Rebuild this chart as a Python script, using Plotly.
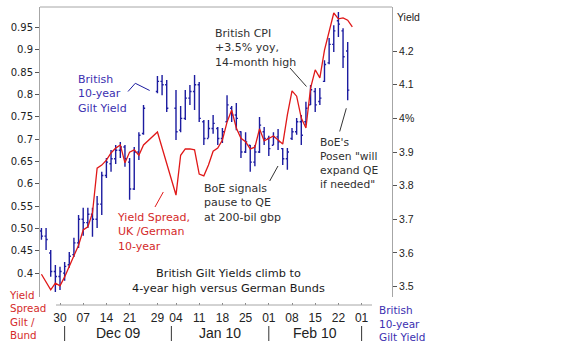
import numpy as np
import pandas as pd
import plotly.graph_objects as go

# ---------------- data ----------------
ANCHOR = "2009-11-30"          # weekday-index origin of the time axis
holidays = ["2009-12-25", "2009-12-28", "2010-01-01"]

gilt_dates = [d for d in pd.bdate_range("2009-11-24", "2010-02-24").strftime("%Y-%m-%d")
              if d not in holidays]
spread_dates = [d for d in pd.bdate_range("2009-11-24", "2010-02-25").strftime("%Y-%m-%d")
                if d not in holidays]

gilt_high = [3.674, 3.674, 3.609, 3.564, 3.559, 3.573, 3.603, 3.645, 3.713, 3.734, 3.734, 3.734,
             3.769, 3.841, 3.882, 3.906, 3.921, 3.930, 3.921, 3.882, 3.915, 3.959, 4.040,
             4.126, 4.129, 4.114,
             4.084, 4.037, 4.084, 4.099, 4.129, 4.108, 3.995, 3.995, 4.010, 3.974, 3.971, 4.069,
             4.037, 4.046, 3.962, 3.959, 3.921, 3.921, 4.004, 3.974, 3.948, 3.959, 3.968, 3.912,
             3.912, 3.971, 4.001, 4.010, 4.049, 4.099, 4.090, 4.090, 4.173, 4.239, 4.277, 4.316,
             4.268, 4.227]
gilt_low = [3.639, 3.609, 3.529, 3.484, 3.490, 3.517, 3.556, 3.588, 3.615, 3.651, 3.674, 3.648,
            3.674, 3.713, 3.823, 3.841, 3.864, 3.882, 3.856, 3.758, 3.787, 3.876, 3.951,
            4.075, 4.069, 4.019,
            3.936, 3.959, 3.995, 4.040, 4.025, 3.989, 3.921, 3.942, 3.954, 3.921, 3.927, 3.989,
            3.989, 3.965, 3.882, 3.897, 3.841, 3.858, 3.897, 3.921, 3.888, 3.921, 3.906, 3.861,
            3.847, 3.936, 3.951, 3.921, 3.980, 4.040, 4.019, 4.040, 4.108, 4.161, 4.197, 4.242,
            4.150, 4.054]
gilt_open = [3.665, 3.650, 3.600, 3.545, 3.530, 3.540, 3.565, 3.595, 3.630, 3.700, 3.690, 3.715,
             3.700, 3.745, 3.830, 3.865, 3.880, 3.905, 3.915, 3.870, 3.790, 3.900, 3.955,
             4.080, 4.110, 4.100,
             4.030, 3.965, 4.000, 4.060, 4.080, 4.100, 3.990, 3.940, 3.970, 3.970, 3.940, 3.990,
             4.030, 4.010, 3.960, 3.900, 3.920, 3.870, 3.900, 3.960, 3.940, 3.920, 3.945, 3.910,
             3.880, 3.940, 3.960, 3.990, 3.990, 4.040, 4.080, 4.050, 4.110, 4.165, 4.220, 4.290,
             4.260, 4.200]
gilt_close = [3.650, 3.640, 3.545, 3.530, 3.545, 3.560, 3.590, 3.630, 3.700, 3.690, 3.715, 3.700,
              3.745, 3.830, 3.870, 3.880, 3.905, 3.915, 3.880, 3.790, 3.900, 3.950, 4.030,
              4.110, 4.100, 4.030,
              3.960, 4.000, 4.060, 4.080, 4.100, 4.000, 3.940, 3.970, 3.985, 3.940, 3.960, 4.040,
              4.010, 4.000, 3.900, 3.930, 3.870, 3.900, 3.980, 3.940, 3.910, 3.945, 3.930, 3.880,
              3.900, 3.960, 3.990, 3.950, 4.030, 4.085, 4.040, 4.060, 4.160, 4.220, 4.260, 4.280,
              4.183, 4.084]

spread = [0.398, 0.381, 0.363, 0.378, 0.372, 0.392, 0.416, 0.439, 0.463, 0.497, 0.504, 0.535,
          0.635, 0.642, 0.653, 0.669, 0.680, 0.687, 0.647, 0.671, 0.676, 0.664, 0.687,
          0.716, 0.680, 0.645,
          0.575, 0.664, 0.678, 0.678, 0.676, 0.622, 0.618, 0.642, 0.673, 0.680, 0.698, 0.738,
          0.765, 0.725, 0.702, 0.694, 0.678, 0.682, 0.723, 0.696, 0.702, 0.707, 0.698, 0.689,
          0.754, 0.808, 0.796, 0.747, 0.725, 0.814, 0.855, 0.837, 0.899, 0.944, 0.982, 0.969,
          0.971, 0.966, 0.951]

tick_dates = ["2009-11-30", "2009-12-07", "2009-12-14", "2009-12-21", "2009-12-29", "2010-01-04",
              "2010-01-11", "2010-01-18", "2010-01-25", "2010-02-01", "2010-02-08", "2010-02-15",
              "2010-02-22", "2010-03-01"]
tick_labels = ["30", "07", "14", "21", "29", "04", "11", "18", "25", "01", "08", "15", "22", "01"]
month_starts = ["2009-12-01", "2010-01-01", "2010-02-01", "2010-03-01"]
month_labels = ["Dec 09", "Jan 10", "Feb 10"]

spread_ticks = [0.4, 0.45, 0.5, 0.55, 0.6, 0.65, 0.7, 0.75, 0.8, 0.85, 0.9, 0.95]
spread_tick_text = ["0.4", "0.45", "0.50", "0.55", "0.6", "0.65", "0.7", "0.75", "0.8", "0.85", "0.9", "0.95"]
yield_ticks = [3.5, 3.6, 3.7, 3.8, 3.9, 4.0, 4.1, 4.2]
yield_tick_text = ["3.5", "3.6", "3.7", "3.8", "3.9", "4%", "4.1", "4.2"]

# ---------------- scales ----------------
def wd(dates):
    return np.busday_count(ANCHOR, np.array(dates, dtype="datetime64[D]"))

gx = wd(gilt_dates)
sx = wd(spread_dates)
tx = wd(tick_dates)
mx = wd(month_starts)

W, H = 563, 357
PL, PR, PT, PB = 40, 392, 7, 305


def px(x):
    return (x - PL) / (PR - PL)


def py(y):
    return (PB - y) / (PB - PT)


NAVY = "#1c1ca0"
RED = "#e01818"
BLUE_TXT = "#3b2fb0"
RED_TXT = "#d42a2a"
DARK = "#303030"
FONT = "DejaVu Sans"

fig = go.Figure()
fig.add_trace(go.Ohlc(x=gx, open=gilt_open, high=gilt_high, low=gilt_low, close=gilt_close,
                      yaxis="y", tickwidth=0.35,
                      increasing=dict(line=dict(color=NAVY, width=1.4)),
                      decreasing=dict(line=dict(color=NAVY, width=1.4)),
                      hoverinfo="skip", showlegend=False))
fig.add_trace(go.Scatter(x=sx, y=spread, yaxis="y2", mode="lines",
                         line=dict(color=RED, width=1.3), hoverinfo="skip", showlegend=False))

fig.update_layout(
    width=W, height=H,
    margin=dict(l=PL, r=W - PR, t=PT, b=H - PB),
    paper_bgcolor="white", plot_bgcolor="white",
    xaxis=dict(range=[-4.31, 71.55], anchor="free", position=0, showline=False,
               showgrid=False, zeroline=False, ticks="inside", ticklen=2, tickcolor="#888",
               tickvals=tx, ticktext=tick_labels, rangeslider=dict(visible=False),
               ticklabelstandoff=4,
               tickfont=dict(family="Liberation Sans", size=12, color="#222")),
    yaxis=dict(domain=[py(297), 1], range=[3.469, 4.331], side="right", anchor="x",
               showline=True, linecolor="#a6a6a6", linewidth=1, showgrid=False, zeroline=False,
               ticks="outside", ticklen=4, tickcolor="#555", tickvals=yield_ticks,
               ticktext=yield_tick_text,
               tickfont=dict(family="Liberation Sans", size=10.5, color="#222")),
    yaxis2=dict(overlaying="y", side="left", anchor="x", range=[0.3471, 0.9954],
                showline=True, linecolor="#a6a6a6", linewidth=1, showgrid=False, zeroline=False,
                ticks="outside", ticklen=4, tickcolor="#555", tickvals=spread_ticks,
                ticktext=spread_tick_text,
                tickfont=dict(family=FONT, size=10, color="#222")),
)

shapes = [
    dict(type="line", xref="paper", yref="paper", x0=0, x1=1, y0=1, y1=1,
         line=dict(color="#a6a6a6", width=1)),
    dict(type="line", xref="paper", yref="paper", x0=px(56), x1=px(372), y0=0, y1=0,
         line=dict(color="#a6a6a6", width=1)),
]
for m in mx:
    shapes.append(dict(type="line", xref="x", yref="paper", x0=m, x1=m, y0=py(326), y1=py(341),
                       line=dict(color="#333", width=1)))


def seg(points, color, width=1):
    path = "M " + " L ".join(f"{px(a):.4f},{py(b):.4f}" for a, b in points)
    return dict(type="path", xref="paper", yref="paper", path=path,
                line=dict(color=color, width=width))


shapes += [
    seg([(128, 91.5), (135.3, 83.3), (149.7, 90.5)], NAVY),
    seg([(290, 68), (306.5, 86.5)], "#333"),
    seg([(155, 207), (163.3, 192)], RED),
    seg([(269.7, 181), (278, 166)], "#333"),
    seg([(339.7, 131.5), (346.3, 108.3)], "#333"),
]
fig.update_layout(shapes=shapes)


def text_block(lines, x, yc, color, size=11, anchor="left", family=FONT):
    fig.add_annotation(x=px(x), y=py(yc), xref="paper", yref="paper", text="<br>".join(lines),
                       showarrow=False, xanchor=anchor, yanchor="middle", align=anchor,
                       borderpad=0, font=dict(family=family, size=size, color=color))


text_block(["British", "10-year", "Gilt Yield"], 76.5, 94, BLUE_TXT)
text_block(["British CPI", "+3.5% yoy,", "14-month high"], 214, 47.7, DARK)
text_block(["Yield Spread,", "UK /German", "10-year"], 116, 232, RED_TXT)
text_block(["BoE signals", "pause to QE", "at 200-bil gbp"], 202.5, 202.6, DARK)
text_block(["BoE's", "Posen \"will", "expand QE", "if needed\""], 318.5, 163.2, DARK, size=10.7)
text_block(["British Gilt Yields climb to", "4-year high versus German Bunds"], 228, 281, "#1a1a1a",
           size=11.3, anchor="center")
text_block(["Yield", "Spread", "Gilt /", "Bund"], 7.5, 315, RED_TXT, size=10.3)
text_block(["British", "10-year", "Gilt Yield"], 377.5, 323.3, BLUE_TXT, size=10.5)
text_block(["Yield"], 395.5, 17.3, "#222", size=10.5, family="Liberation Sans")

for k, lab in enumerate(month_labels):
    fig.add_annotation(x=(mx[k] + mx[k + 1]) / 2, y=py(332.5), xref="x", yref="paper", text=lab,
                       showarrow=False, xanchor="center", yanchor="middle",
                       font=dict(family="Liberation Sans", size=14, color="#222"))

fig.write_html("out.html", config={"displayModeBar": False},
               post_script="document.body.style.margin='0';document.body.style.padding='0';")
